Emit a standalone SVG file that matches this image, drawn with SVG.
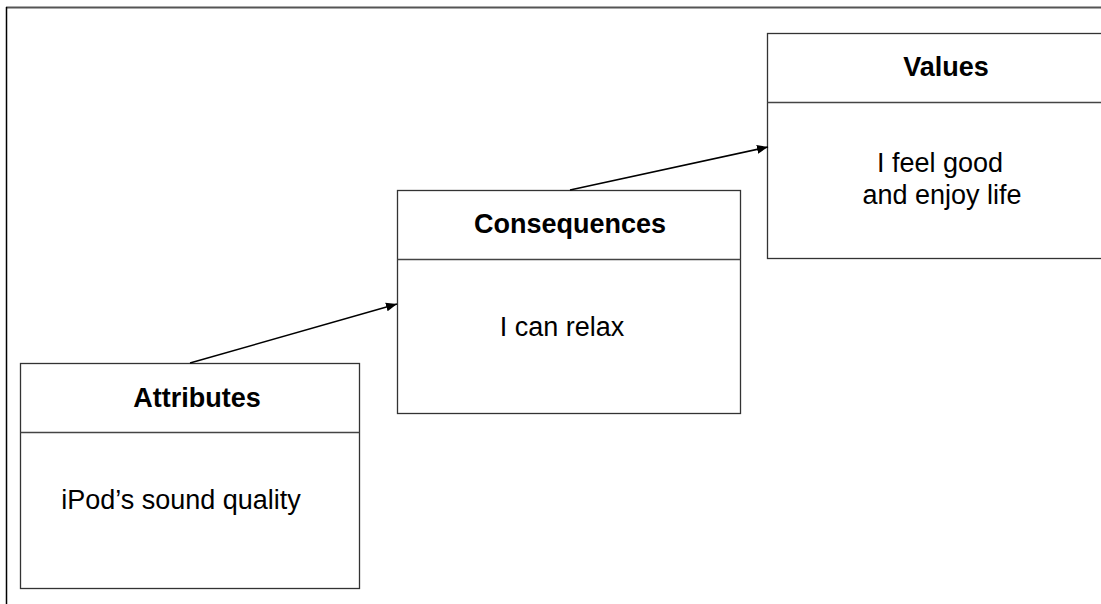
<svg xmlns="http://www.w3.org/2000/svg" width="1101" height="604" viewBox="0 0 1101 604">
<defs>
<style>
.box{fill:#fff;stroke:#333;stroke-width:1.3}
.div{stroke:#444;stroke-width:1.3}
.t{font-family:"Liberation Sans",Arial,sans-serif;font-size:27px;fill:#000;text-anchor:middle}
.b{font-weight:bold}
.c{stroke:#000;stroke-width:1.5;fill:none;marker-end:url(#ah)}
</style>
<marker id="ah" viewBox="0 0 10 10" refX="10" refY="5" markerWidth="11" markerHeight="11" markerUnits="userSpaceOnUse" orient="auto">
<path d="M0,1 L10,5 L0,9 Z" fill="#000"/>
</marker>
</defs>
<rect width="1101" height="604" fill="#fff"/>
<g id="frame">
<line x1="6" y1="7.5" x2="1101" y2="7.5" stroke="#555" stroke-width="2"/>
<line x1="6.5" y1="7" x2="6.5" y2="604" stroke="#000" stroke-width="1.5"/>
</g>
<g id="attributes">
<rect class="box" x="20.5" y="363.5" width="339" height="225"/>
<line class="div" x1="20.5" y1="432.5" x2="359.5" y2="432.5"/>
<text class="t b" x="197" y="407">Attributes</text>
<text class="t" x="181" y="509">iPod’s sound quality</text>
</g>
<g id="consequences">
<rect class="box" x="397.5" y="190.5" width="343" height="223"/>
<line class="div" x1="397.5" y1="259.5" x2="740.5" y2="259.5"/>
<text class="t b" x="570" y="233">Consequences</text>
<text class="t" x="562" y="336">I can relax</text>
</g>
<g id="values">
<rect class="box" x="767.5" y="33.5" width="345" height="225"/>
<line class="div" x1="767.5" y1="102.5" x2="1112" y2="102.5"/>
<text class="t b" x="946" y="76">Values</text>
<text class="t" x="940" y="172">I feel good</text>
<text class="t" x="942" y="204">and enjoy life</text>
</g>
<g id="connectors">
<line class="c" x1="190" y1="363" x2="397" y2="304"/>
<line class="c" x1="570" y1="190" x2="768" y2="147"/>
</g>
</svg>
